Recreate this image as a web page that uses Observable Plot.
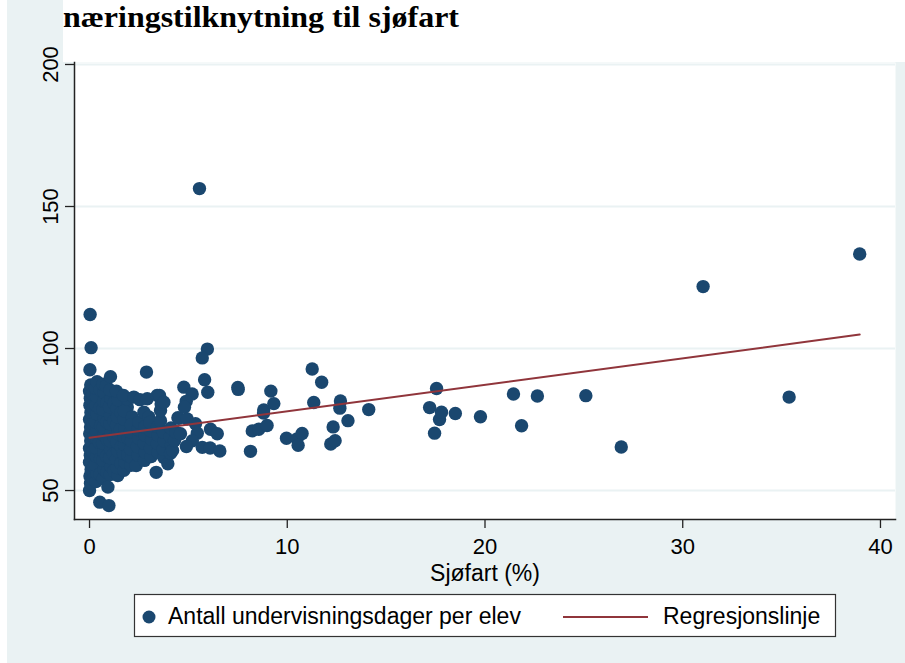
<!DOCTYPE html>
<html>
<head>
<meta charset="utf-8">
<script src="https://cdn.jsdelivr.net/npm/d3@7"></script>
<script src="https://cdn.jsdelivr.net/npm/@observablehq/plot@0.6"></script>
<style>
  body { margin: 0; background: #fff; }
  #wrap { position: relative; width: 905px; height: 663px; overflow: hidden; background: #fff;
          font-family: "Liberation Sans", Arial, sans-serif; }
  #bg { position: absolute; left: 7px; top: 0; width: 898px; height: 663px; background: #eaf2f3; }
  #titlebox { position: absolute; left: 63px; top: 0; width: 842px; height: 62px; background: #fff; }
  #chart { position: absolute; left: 0; top: 0; }
  #over { position: absolute; left: 0; top: 0; pointer-events: none; }
</style>
</head>
<body>
<div id="wrap">
  <div id="bg"></div>
  <div id="titlebox"></div>
  <div id="chart"></div>
  <svg id="over" width="905" height="663"></svg>
</div>
<script>
// ---- text ----
const tittel = "næringstilknytning til sjøfart";
const xLabel = "Sjøfart (%)";
const legendPunkt = "Antall undervisningsdager per elev";
const legendLinje = "Regresjonslinje";

// ---- ticks ----
const yTicks = [50, 100, 150, 200];
const xTicks = [0, 10, 20, 30, 40];

// ---- regression line ----
const regX = [0, 38.95];
const regY = [68.6, 104.9];

// ---- dense cluster near 0–4.5 % (x = sjøfart %, y = dager) ----
const klynge = [
  [0.00,50.0],[0.05,52.6],[0.02,55.1],[0.08,57.4],[0.00,60.0],[0.04,62.4],[0.00,64.9],[0.06,67.5],
  [0.01,70.0],[0.05,72.4],[0.00,75.0],[0.07,77.5],[0.02,80.0],[0.04,82.5],[0.00,85.0],[0.06,87.2],
  [0.02,92.5],[0.08,100.3],[0.03,112.0],
  [0.18,54.0],[0.20,58.6],[0.16,63.6],[0.21,68.8],[0.17,73.6],[0.19,78.8],[0.15,84.0],
  [0.33,53.2],[0.38,56.0],[0.30,59.1],[0.36,62.0],[0.32,65.1],[0.39,68.0],[0.34,71.0],[0.30,74.1],
  [0.37,77.0],[0.33,80.0],[0.36,83.1],[0.31,86.0],[0.38,88.3],[0.52,45.9],
  [0.53,55.8],[0.55,61.2],[0.50,66.9],[0.56,72.8],[0.51,79.0],[0.54,85.6],
  [0.70,54.2],[0.74,57.5],[0.68,60.6],[0.72,63.5],[0.66,66.6],[0.73,69.5],[0.69,72.5],[0.75,75.5],
  [0.67,78.5],[0.71,81.5],[0.74,84.5],[0.69,87.4],
  [0.88,56.4],[0.86,62.1],[0.90,68.0],[0.87,74.1],[0.89,80.9],[0.85,86.8],
  [0.98,44.7],[0.93,51.2],[1.05,55.6],[1.08,58.5],[1.02,61.5],[1.07,64.5],[1.04,67.5],[1.09,70.5],
  [1.03,73.5],[1.06,76.5],[1.01,79.5],[1.08,82.5],[1.04,85.4],[1.06,90.1],
  [1.23,57.0],[1.21,62.8],[1.25,68.6],[1.22,74.6],[1.24,80.8],
  [1.43,55.3],[1.40,58.1],[1.36,61.0],[1.42,64.0],[1.38,67.1],[1.44,70.0],[1.37,73.0],[1.41,76.0],
  [1.39,79.1],[1.43,82.0],[1.36,85.0],
  [1.58,59.5],[1.60,65.4],[1.56,71.5],[1.59,77.4],
  [1.74,57.1],[1.78,60.0],[1.72,63.0],[1.77,66.1],[1.73,69.0],[1.79,72.0],[1.75,75.1],[1.91,79.4],
  [1.76,78.0],[1.91,82.3],[1.72,83.5],
  [1.93,62.5],[1.95,68.4],
  [2.10,58.9],[2.13,61.6],[2.08,64.5],[2.12,67.5],[2.07,70.5],[2.16,75.9],[2.11,73.2],[2.24,82.9],
  [2.36,58.8],[2.46,62.4],[2.42,65.5],[2.48,68.5],[2.44,71.5],[2.50,74.0],[2.55,82.0],
  [2.78,60.6],[2.82,63.5],[2.76,66.6],[2.81,69.5],[2.79,72.4],[2.75,77.6],[2.92,82.3],[2.88,91.7],
  [3.12,62.0],[3.08,65.1],[3.14,68.0],[3.10,71.0],[3.00,75.9],[3.05,74.0],[3.42,83.5],[3.37,56.4],
  [3.46,63.5],[3.43,66.6],[3.48,69.5],[3.44,72.5],[3.59,74.6],[3.59,78.2],[3.62,80.5],[3.54,83.5],
  [3.76,61.6],[3.73,64.5],[3.78,67.5],[3.74,70.5],[3.76,81.1],[3.96,59.4],
  [4.10,63.1],[4.14,66.1],[4.08,69.0],[4.12,72.0],[4.20,64.1],[4.30,67.6],[4.36,70.5],[4.47,75.6]
];

// ---- scattered schools ----
const spredte = [
  [4.77,86.4],[5.19,84.0],[4.89,81.4],[4.80,79.3],[4.52,75.4],[4.94,75.2],[5.36,73.5],[4.60,70.0],
  [5.45,70.2],[5.20,67.5],[4.90,65.5],[6.12,71.6],[6.46,70.0],[5.70,65.2],[6.10,65.0],[6.59,63.9],
  [5.96,99.8],[5.70,96.7],[5.82,89.0],[5.98,84.6],[5.56,156.3],[7.50,86.3],[7.52,85.6],
  [8.14,63.8],[8.23,71.0],[8.56,71.6],[8.98,72.9],[8.81,78.4],[8.80,77.3],[9.32,80.6],[9.17,85.0],
  [9.96,68.4],[10.50,68.2],[10.75,70.1],[10.55,65.9],[11.26,92.8],[11.74,88.1],[11.34,81.0],
  [12.69,81.5],[12.66,79.0],[13.07,74.6],[12.32,72.4],[12.20,66.4],[12.42,67.5],[14.12,78.5],
  [17.20,79.2],[17.55,85.9],[17.45,70.2],[17.70,75.0],[17.80,77.6],[18.50,77.1],[19.77,76.0],
  [21.44,84.0],[21.85,72.8],[22.65,83.3],[25.10,83.4],[26.89,65.3],[31.03,121.8],[35.38,82.9],
  [38.95,133.3]
];

const navy = "#1a476f";
const maroon = "#90353b";
const axisCol = "#222";

const punkter = klynge.concat(spredte).map(([x, y]) => ({x, y}));
const reg = regX.map((x, i) => ({x, y: regY[i]}));

const chart = Plot.plot({
  width: 905,
  height: 663,
  marginLeft: 74,
  marginRight: 10,
  marginTop: 62,
  marginBottom: 144,
  style: {background: "transparent", fontFamily: '"Liberation Sans", Arial, sans-serif', fontSize: "22px", color: "#000", overflow: "visible"},
  x: {domain: [-0.76, 40.76]},
  y: {domain: [39.8, 200.7]},
  marks: [
    Plot.frame({fill: "#fff", stroke: null}),
    Plot.gridY(yTicks, {stroke: "#eaf2f3", strokeOpacity: 1, strokeWidth: 2}),
    Plot.dot(punkter, {x: "x", y: "y", r: 6.7, fill: navy}),
    Plot.line(reg, {x: "x", y: "y", stroke: maroon, strokeWidth: 2}),
    Plot.axisY(yTicks, {tickSize: 9, tickPadding: 8, tickRotate: -90, textAnchor: "middle", lineAnchor: "bottom", fontSize: 22, stroke: axisCol, strokeWidth: 1.3, fill: "#000", label: null}),
    Plot.axisX(xTicks, {tickSize: 9, tickPadding: 10, fontSize: 22, stroke: axisCol, strokeWidth: 1.3, fill: "#000", label: null}),
    Plot.frame({anchor: "left", stroke: axisCol, strokeWidth: 1.5}),
    Plot.frame({anchor: "bottom", stroke: axisCol, strokeWidth: 1.5}),
    Plot.text([xLabel], {frameAnchor: "bottom", dy: 45, lineAnchor: "top", fontSize: 23, fill: "#000"})
  ]
});
document.getElementById("chart").appendChild(chart);

// ---- title and legend overlay ----
const over = d3.select("#over");
over.append("text")
  .attr("x", 63).attr("y", 27)
  .attr("font-family", '"Liberation Serif", "Times New Roman", serif')
  .attr("font-weight", "bold")
  .attr("font-size", 29)
  .attr("textLength", 396)
  .attr("lengthAdjust", "spacingAndGlyphs")
  .text(tittel);

const lg = over.append("g").attr("font-family", '"Liberation Sans", Arial, sans-serif').attr("font-size", 23);
lg.append("rect").attr("x", 134.5).attr("y", 594.5).attr("width", 701).attr("height", 42)
  .attr("fill", "#fff").attr("stroke", "#333").attr("stroke-width", 1.2);
lg.append("circle").attr("cx", 149).attr("cy", 617).attr("r", 6.5).attr("fill", navy);
lg.append("text").attr("x", 168).attr("y", 624).text(legendPunkt);
lg.append("line").attr("x1", 563).attr("x2", 648).attr("y1", 617).attr("y2", 617)
  .attr("stroke", maroon).attr("stroke-width", 2);
lg.append("text").attr("x", 663).attr("y", 624).text(legendLinje);
</script>
</body>
</html>
